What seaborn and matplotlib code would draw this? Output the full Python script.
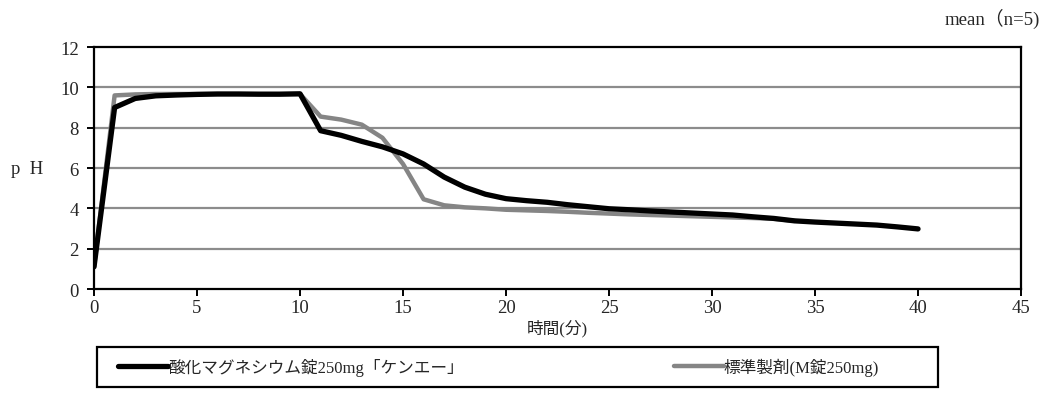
import pandas as pd
import matplotlib.pyplot as plt
from matplotlib.patches import Rectangle
import seaborn as sns

# 溶出試験 pH 推移データ
time_test = list(range(0, 41))
ph_test = [1.1, 9.0, 9.45, 9.58, 9.62, 9.65, 9.67, 9.67, 9.66, 9.66,
           9.68, 7.85, 7.62, 7.32, 7.05, 6.7, 6.2, 5.55, 5.05, 4.7,
           4.48, 4.38, 4.3, 4.18, 4.08, 3.98, 3.93, 3.87, 3.82, 3.77,
           3.72, 3.67, 3.58, 3.5, 3.38, 3.32, 3.27, 3.22, 3.17, 3.08,
           2.98]
time_ref = list(range(0, 35))
ph_ref = [1.1, 9.6, 9.65, 9.67, 9.67, 9.67, 9.67, 9.67, 9.67, 9.67,
          9.67, 8.55, 8.4, 8.15, 7.5, 6.2, 4.45, 4.15, 4.05, 4.0,
          3.93, 3.9, 3.87, 3.83, 3.78, 3.74, 3.7, 3.67, 3.64, 3.61,
          3.58, 3.55, 3.52, 3.48, 3.38]

label_test = "酸化マグネシウム錠250mg「ケンエー」"
label_ref = "標準製剤(M錠250mg)"

df = pd.concat([
    pd.DataFrame({'time': time_test, 'pH': ph_test, 'drug': label_test}),
    pd.DataFrame({'time': time_ref, 'pH': ph_ref, 'drug': label_ref}),
])

sns.set_style("white")
plt.rcParams['font.family'] = ['Liberation Serif', 'Noto Sans CJK JP', 'DejaVu Sans']

fig = plt.figure(figsize=(10.47, 4.14), dpi=100)
ax = fig.add_axes([0.0898, 0.2995, 0.8854, 0.5845])

for y in range(2, 12, 2):
    ax.axhline(y, color='#8c8c8c', lw=1.6, zorder=0)

sns.lineplot(ax=ax, data=df[df['drug'] == label_ref], x='time', y='pH',
             color='#858585', lw=3.2, label=label_ref, legend=False)
sns.lineplot(ax=ax, data=df[df['drug'] == label_test], x='time', y='pH',
             color='black', lw=3.8, label=label_test, legend=False,
             solid_capstyle='round')

ax.set_xlim(0, 45)
ax.set_ylim(0, 12)
ax.set_xticks(range(0, 46, 5))
ax.set_yticks(range(0, 13, 2))
for s in ax.spines.values():
    s.set_color('black')
    s.set_linewidth(1.6)
ax.tick_params(axis='both', direction='out', length=5, width=1.4,
               color='black', labelsize=13.5, left=True, bottom=True)
ax.tick_params(axis='x', pad=2.5)
ax.tick_params(axis='y', pad=6)
ax.set_xlabel('時間(分)', fontsize=12, labelpad=2)
ax.set_ylabel('p\u2002H', fontsize=13.5, rotation=0, labelpad=24, va='center')

fig.text(0.993, 0.955, 'mean（n=5)', ha='right', va='center', fontsize=13.5)

# 凡例枠
fig.patches.append(Rectangle((0.0926, 0.063), 0.803, 0.097,
                             transform=fig.transFigure, fill=False,
                             edgecolor='black', lw=1.6))

handles, labels = ax.get_legend_handles_labels()
order = [labels.index(label_test), labels.index(label_ref)]
leg = fig.legend([handles[i] for i in order], [labels[i] for i in order],
                 loc='center left', bbox_to_anchor=(0.113, 0.111),
                 ncol=2, fontsize=12, frameon=False,
                 handlelength=3.0, handletextpad=0.0,
                 columnspacing=12.6, borderaxespad=0, borderpad=0)

plt.savefig('out.png', dpi=100)
